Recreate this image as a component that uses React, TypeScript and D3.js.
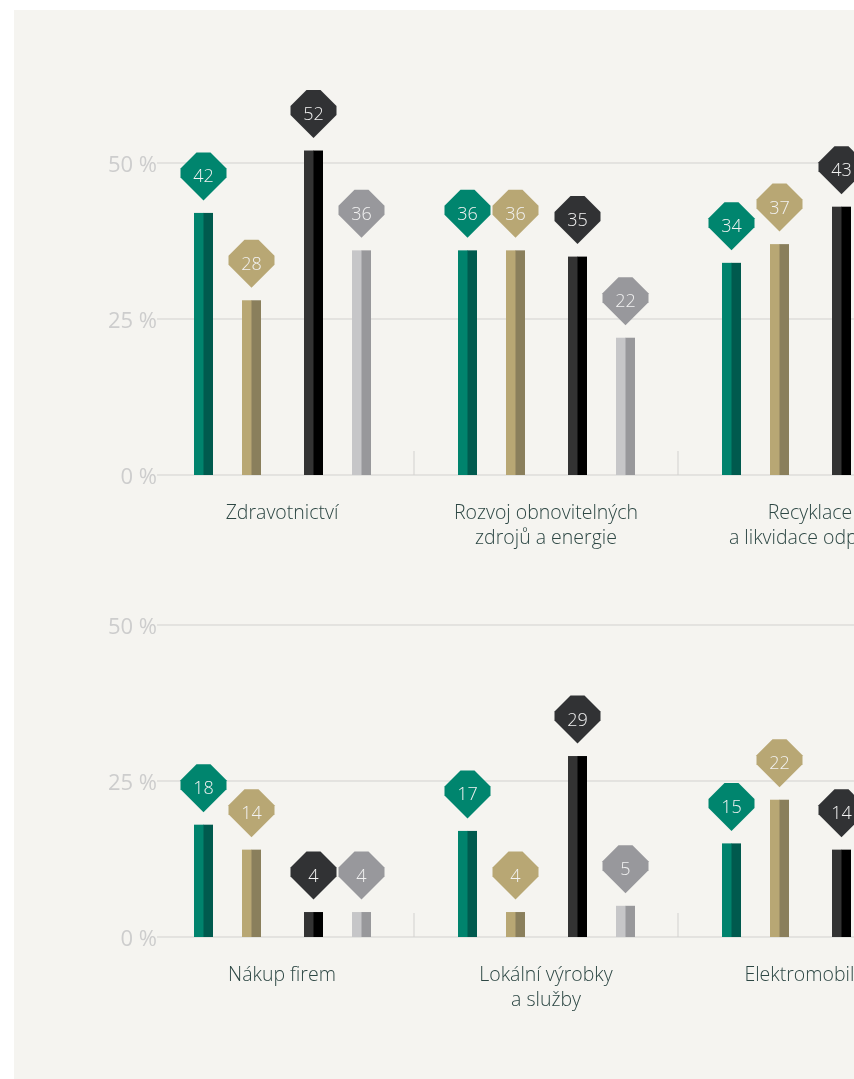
import React from "react";
import * as d3 from "d3";

const topCategories = ["Zdravotnictví", "Rozvoj obnovitelných\nzdrojů a energie", "Recyklace\na likvidace odpadů"];
const bottomCategories = ["Nákup firem", "Lokální výrobky\na služby", "Elektromobilita"];
const seriesKeys = ["s1", "s2", "s3", "s4"];
const topS1 = [42, 36, 34];
const topS2 = [28, 36, 37];
const topS3 = [52, 35, 43];
const topS4 = [36, 22, 30];
const bottomS1 = [18, 17, 15];
const bottomS2 = [14, 4, 22];
const bottomS3 = [4, 29, 14];
const bottomS4 = [4, 5, 8];
const yTicks = [0, 25, 50];

const barLight = ["#00836d", "#b8a774", "#333333", "#c6c6c8"];
const barDark = ["#005a4e", "#8a7f5c", "#000000", "#98989b"];
const markerFill = ["#00856e", "#b8a774", "#313234", "#98989c"];

const W = 854;
const H = 1079;

function Panel({ categories, values, y0, y50 }: { categories: string[]; values: number[][]; y0: number; y50: number }) {
  const x = d3.scaleBand<string>().domain(categories).range([150, 150 + 264 * categories.length]).paddingInner(0).paddingOuter(0);
  const y = d3.scaleLinear().domain([0, 50]).range([y0, y50]);
  const pair = d3.scalePoint<number>().domain([0, 1]).range([77.5, 187.5]);
  const within = d3.scalePoint<number>().domain([0, 1]).range([-24, 24]);
  const barW = 19;
  const markerPts = (cx: number, top: number) =>
    [
      [cx - 7, top],
      [cx + 7, top],
      [cx + 23, top + 16],
      [cx + 23, top + 25],
      [cx, top + 48],
      [cx - 23, top + 25],
      [cx - 23, top + 16],
    ]
      .map((p) => p.join(","))
      .join(" ");
  return (
    <g>
      {yTicks.map((t) => (
        <g key={t}>
          <line x1={157} x2={W + 10} y1={y(t)} y2={y(t)} stroke="#d2d1cf" strokeWidth={1} />
          <text
            x={157}
            y={y(t)}
            textAnchor="end"
            dominantBaseline="central"
            fontFamily="'Open Sans', sans-serif"
            fontWeight={400}
            fontSize={22}
            fill="#cdcdcd"
          >
            {t} %
          </text>
        </g>
      ))}
      {categories.slice(1).map((c) => (
        <line key={c} x1={x(c)!} x2={x(c)!} y1={y0 - 24} y2={y0} stroke="#d2d1cf" strokeWidth={1} />
      ))}
      {categories.map((c, ci) => {
        const gx = x(c)!;
        const lines = c.split("\n");
        return (
          <g key={c}>
            {seriesKeys.map((k, si) => {
              const cx = gx + pair(Math.floor(si / 2))! + within(si % 2)!;
              const v = values[si][ci];
              const top = y(v);
              const mTop = top - 12.5 - 48;
              return (
                <g key={k}>
                  <rect x={cx - barW / 2} y={top} width={barW / 2 + 0.5} height={y0 - top} fill={barLight[si]} />
                  <rect x={cx} y={top} width={barW / 2} height={y0 - top} fill={barDark[si]} />
                  <polygon points={markerPts(cx, mTop)} fill={markerFill[si]} />
                  <text
                    x={cx}
                    y={mTop + 23}
                    textAnchor="middle"
                    dominantBaseline="central"
                    fontFamily="'Open Sans', sans-serif"
                    fontWeight={300}
                    fontSize={18}
                    fill="#f2f2f2"
                  >
                    {v}
                  </text>
                </g>
              );
            })}
            <text
              x={gx + 132}
              y={y0 + 44}
              textAnchor="middle"
              fontFamily="'Open Sans', sans-serif"
              fontWeight={300}
              fontSize={19.5}
              fill="#2d4744"
            >
              {lines.map((l, li) => (
                <tspan key={li} x={gx + 132} dy={li === 0 ? 0 : 25}>
                  {l}
                </tspan>
              ))}
            </text>
          </g>
        );
      })}
    </g>
  );
}

export default function App() {
  return (
    <svg width={W} height={H} style={{ position: "fixed", left: 0, top: 0 }}>
      <rect x={0} y={0} width={W} height={H} fill="#ffffff" />
      <rect x={14} y={10} width={W} height={H - 10} fill="#f5f4f0" />
      <Panel categories={topCategories} values={[topS1, topS2, topS3, topS4]} y0={475} y50={163} />
      <Panel categories={bottomCategories} values={[bottomS1, bottomS2, bottomS3, bottomS4]} y0={937} y50={625} />
    </svg>
  );
}
